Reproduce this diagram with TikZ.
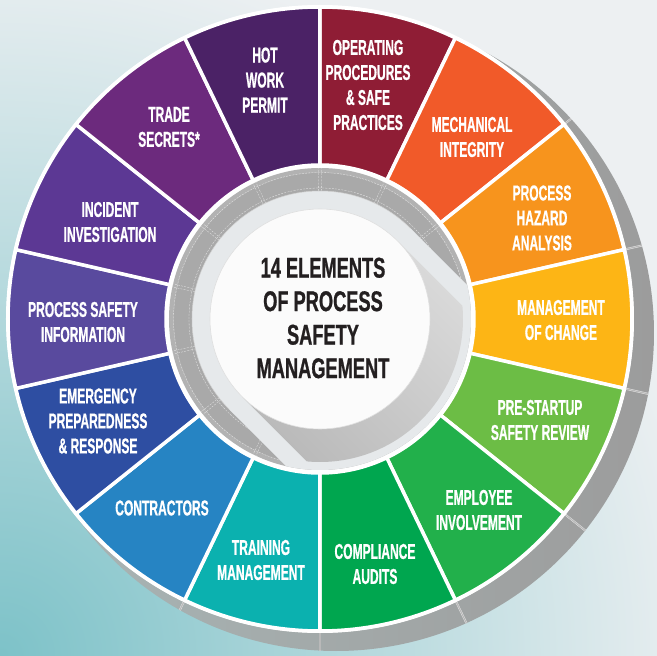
\documentclass[tikz,border=0pt]{standalone}
\usepackage{fontspec}
\usetikzlibrary{calc}
\newfontfamily\segfont{Liberation Sans}[FakeStretch=0.56, FakeBold=0.7]
\newfontfamily\ctrfont{Liberation Sans}[FakeStretch=0.64, FakeBold=0.8]
\definecolor{bgc}{HTML}{EDF0F2}
\definecolor{tealbg}{HTML}{7DC2C8}
\definecolor{shadowA}{HTML}{A9B6B6}
\definecolor{shadowB}{HTML}{9C9C9C}
\definecolor{ringgray}{HTML}{A9A9A9}
\definecolor{lightdisc}{HTML}{E6E9EB}
\definecolor{ctrtext}{HTML}{231F20}
\definecolor{c0}{HTML}{8F1D35}
\definecolor{c1}{HTML}{F15A29}
\definecolor{c2}{HTML}{F7941D}
\definecolor{c3}{HTML}{FDB515}
\definecolor{c4}{HTML}{6CBD45}
\definecolor{c5}{HTML}{22B04B}
\definecolor{c6}{HTML}{00A64F}
\definecolor{c7}{HTML}{0BB1AF}
\definecolor{c8}{HTML}{2684C3}
\definecolor{c9}{HTML}{2E4EA2}
\definecolor{c10}{HTML}{594A9E}
\definecolor{c11}{HTML}{5C3894}
\definecolor{c12}{HTML}{6C2A7D}
\definecolor{c13}{HTML}{4B2266}
\tikzset{
  seglabel/.style={text=white, align=center, inner sep=0pt,
    font=\segfont\bfseries\fontsize{21.5}{25}\selectfont},
  ctrlabel/.style={text=ctrtext, align=center, inner sep=0pt,
    font=\ctrfont\bfseries\fontsize{28.5}{33.5}\selectfont},
  segpiece/.style={draw=white, line width=3.5pt, line join=round},
  seam/.style={draw=white!85!gray, line width=0.35pt, double=gray!55, double distance=1.2pt},
  ringseam/.style={draw=white, line width=0.3pt, dash pattern=on 2pt off 1.2pt, opacity=0.75}
}
\begin{document}
\begin{tikzpicture}[x=1pt,y=1pt]
\useasboundingbox (-320,-337) rectangle (337,319);
% background
\fill[bgc] (-320,-337) rectangle (337,319);
\begin{scope}
  \clip (-320,-337) rectangle (337,319);
  \shade[inner color=tealbg, outer color=bgc] (-320,-337) circle (720);
\end{scope}
% offset grey disc behind the wheel
\shade[left color=shadowA, right color=shadowB] (16,-14) circle (318);
\begin{scope}
  \clip (16,-14) circle (318);
  \foreach \i in {0,...,13}{
    \pgfmathsetmacro\a{90-\i*360/14}
    \draw[seam] (\a:300) -- (\a:345);
  }
\end{scope}
% white base of the wheel
\fill[white] (0,0) circle (314);
% segments
\foreach \i/\c in {0/c0,1/c1,2/c2,3/c3,4/c4,5/c5,6/c6,7/c7,8/c8,9/c9,10/c10,11/c11,12/c12,13/c13}{
  \pgfmathsetmacro\a{90-\i*360/14}
  \pgfmathsetmacro\b{\a-360/14}
  \filldraw[segpiece, fill=\c] (\a:154) arc[start angle=\a, end angle=\b, radius=154]
    -- (\b:312) arc[start angle=\b, end angle=\a, radius=312] -- cycle;
}
% inner grey ring
\fill[gray!60] (0,0) circle (151);
\fill[ringgray] (0,0) circle (146);
\draw[ringseam] (0,0) circle (146.5);
\draw[ringseam] (0,0) circle (131);
\foreach \i in {0,...,13}{
  \pgfmathsetmacro\a{90-\i*360/14}
  \draw[ringseam] (\a+0.6:128) -- (\a+0.6:151);
  \draw[ringseam] (\a-0.6:128) -- (\a-0.6:151);
}
% light disc with its long extrusion
\begin{scope}
  \clip (0,0) circle (151);
  \fill[lightdisc] (45:128) -- ++(-45:400) -- ($(-135:128)+(-45:400)$) -- (-135:128) -- cycle;
  \fill[lightdisc] (0,0) circle (128);
\end{scope}
\draw[gray!35, line width=0.5pt] (135:128) arc[start angle=135, end angle=45, radius=128];
\draw[gray!35, line width=0.5pt] (135:128) arc[start angle=135, end angle=225, radius=128];
% long shadow of the white circle
\begin{scope}
  \clip (0,0) circle (143);
  \shade[top color=gray!22, bottom color=gray!62, shading angle=-45]
    (45:110) -- ++(-45:300) -- ($(-135:110)+(-45:300)$) -- (-135:110) -- cycle;
\end{scope}
% white centre circle
\filldraw[fill=white!97!gray, draw=gray!25, line width=0.6pt] (0,0) circle (110);
\node[ctrlabel] (center) at (3,1) {14 ELEMENTS\\OF PROCESS\\SAFETY\\MANAGEMENT};
% segment labels
\node[seglabel] (hot) at (-55,239) {HOT\\WORK\\PERMIT};
\node[seglabel] (opr) at (48,234) {OPERATING\\PROCEDURES\\\& SAFE\\PRACTICES};
\node[seglabel] (mech) at (152,182) {MECHANICAL\\INTEGRITY};
\node[seglabel] (pha) at (222,101) {PROCESS\\HAZARD\\ANALYSIS};
\node[seglabel] (moc) at (241,-1) {MANAGEMENT\\OF CHANGE};
\node[seglabel] (psr) at (220,-101) {PRE-STARTUP\\SAFETY REVIEW};
\node[seglabel] (emp) at (159,-191) {EMPLOYEE\\INVOLVEMENT};
\node[seglabel] (comp) at (55,-245) {COMPLIANCE\\AUDITS};
\node[seglabel] (train) at (-59,-241) {TRAINING\\MANAGEMENT};
\node[seglabel] (cont) at (-158,-189) {CONTRACTORS};
\node[seglabel] (emer) at (-222,-102) {EMERGENCY\\PREPAREDNESS\\\& RESPONSE};
\node[seglabel] (psi) at (-237,-3) {PROCESS SAFETY\\INFORMATION};
\node[seglabel] (inc) at (-210,97) {INCIDENT\\INVESTIGATION};
\node[seglabel] (trade) at (-151,192) {TRADE\\SECRETS*};
\end{tikzpicture}
\end{document}
